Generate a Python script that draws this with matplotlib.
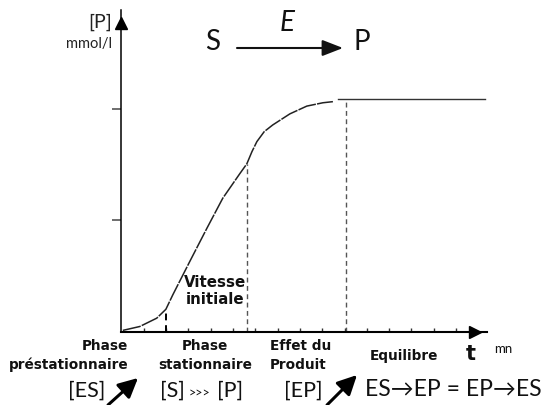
import matplotlib
matplotlib.use("Agg")
import matplotlib.pyplot as plt

# product concentration curve (t in tick units, [P] in tick units)
t_curve = [0.06, 0.82, 1.58, 1.99, 2.30, 3.06, 3.83, 4.54, 5.30, 5.62,
           5.85, 6.07, 6.40, 6.78, 7.55, 8.31, 9.03, 9.48]
p_curve = [0.01, 0.045, 0.12, 0.20, 0.33, 0.63, 0.93, 1.20, 1.42, 1.51,
           1.62, 1.71, 1.80, 1.86, 1.96, 2.03, 2.06, 2.07]
t_plateau = [9.72, 16.3]
p_plateau = [2.09, 2.09]
t_marks = [2.0, 5.62, 10.06]
p_marks = [0.20, 1.51, 2.09]
x_ticks = list(range(1, 16))
y_ticks = [1, 2]

W, H = 546, 405
light = ['Lato', 'DejaVu Sans']


def px(x, y):
    # pixel position (from top-left) -> figure fraction
    return x / W, 1 - y / H


fig = plt.figure(figsize=(W / 100, H / 100), dpi=100)
fig.patch.set_facecolor('white')
ax = fig.add_axes([121.5 / W, (H - 331.5) / H, 365.5 / W, 322 / H])
ax.set_xlim(0, 16.39)
ax.set_ylim(0, 2.9)
ax.set_facecolor('none')
for s in ['top', 'right']:
    ax.spines[s].set_visible(False)
ax.spines['left'].set_linewidth(1.1)
ax.spines['bottom'].set_linewidth(1.5)

ax.set_xticks(x_ticks)
ax.set_yticks(y_ticks)
ax.set_xticklabels([])
ax.set_yticklabels([])
ax.tick_params(axis='x', direction='in', length=3, width=1, color='#333')
ax.tick_params(axis='y', direction='out', length=6.5, width=1.2, color='#555')

# axis arrow heads
ax.plot([15.83], [0], marker='>', markersize=9, color='black', clip_on=False)
ax.plot([0], [2.78], marker='^', markersize=8, color='black', clip_on=False)

# curve and plateau
ax.plot(t_curve, p_curve, color='#222', lw=1.1, dashes=(12, 0.8))
ax.plot(t_plateau, p_plateau, color='#333', lw=1.0)

# vertical dashed markers
ax.vlines(t_marks[0], 0, p_marks[0], colors='black', lw=1.4, linestyles=(0, (3.5, 2.5)))
ax.vlines(t_marks[1:], 0, p_marks[1:], colors='#555', lw=1.0, linestyles=(0, (3.5, 2.5)))

# y axis label
fig.text(*px(112, 22), '[P]', family=light, fontsize=14, ha='right', va='center', color='#222')
fig.text(*px(112, 44), 'mmol/l', family=light, fontsize=10.5, ha='right', va='center', color='#222')

# reaction S --E--> P
fig.text(*px(213, 42), 'S', family=light, fontsize=20, ha='center', va='center', color='#111')
fig.text(*px(287, 23), 'E', family=light, fontsize=20, style='italic', ha='center', va='center', color='#111')
fig.text(*px(362, 42), 'P', family=light, fontsize=20, ha='center', va='center', color='#111')
ax.annotate('', xy=(343, H - 48), xytext=(237, H - 48), xycoords='figure pixels',
            textcoords='figure pixels', annotation_clip=False,
            arrowprops=dict(arrowstyle='-|>,head_length=0.9,head_width=0.35',
                            mutation_scale=14, lw=1.5, color='#111', shrinkA=0, shrinkB=0))

# labels inside the plot
fig.text(*px(215, 291), 'Vitesse\ninitiale', fontsize=10.8, fontweight='bold', ha='center',
         va='center', linespacing=1.2, color='#111')

# phase labels
bold = dict(fontsize=9.8, fontweight='bold', va='center', linespacing=1.45, color='#111')
fig.text(*px(128, 355.5), 'Phase\npréstationnaire', ha='right', multialignment='right', **bold)
fig.text(*px(205, 355.5), 'Phase\nstationnaire', ha='center', multialignment='center', **bold)
fig.text(*px(270, 355.5), 'Effet du\nProduit', ha='left', multialignment='left', **bold)
fig.text(*px(370, 356), 'Equilibre', ha='left', fontsize=9.8, fontweight='bold', va='center', color='#111')
fig.text(*px(466, 354), 't', ha='left', va='center', fontsize=15, fontweight='bold', color='#111')
fig.text(*px(494, 349), 'mn', ha='left', va='center', family=light, fontsize=9.5, color='#111')

# bottom row
row = dict(family=light, fontsize=15.5, va='center', ha='center', color='#111')
fig.text(*px(86.5, 391), '[ES]', **row)
fig.text(*px(172, 391), '[S]', **row)
fig.text(*px(200, 393), '>>>', family=light, fontsize=9, va='center', ha='center', color='#111')
fig.text(*px(230, 391), '[P]', **row)
fig.text(*px(303, 391), '[EP]', **row)
fig.text(*px(453, 390), 'ES→EP = EP→ES', family=light, fontsize=16.5, va='center', ha='center', color='#111')

for (x0, y0), (x1, y1) in [((108, 405), (138, 378)), ((327, 405), (357, 375))]:
    ax.annotate('', xy=(x1, H - y1), xytext=(x0, H - y0), xycoords='figure pixels',
                textcoords='figure pixels', annotation_clip=False,
                arrowprops=dict(arrowstyle='-|>,head_length=0.9,head_width=0.45',
                                mutation_scale=13, lw=2.2, color='black',
                                shrinkA=0, shrinkB=0))

fig.savefig('out.png', dpi=100)
